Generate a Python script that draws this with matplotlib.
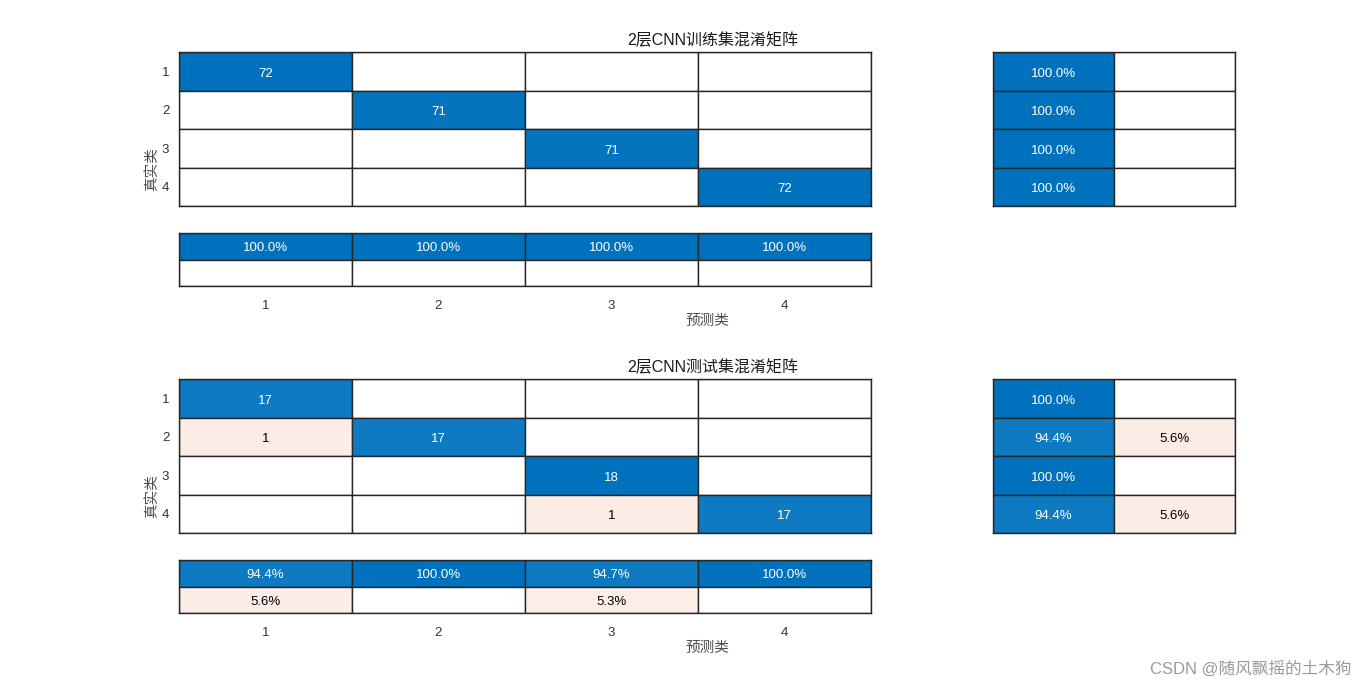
import numpy as np
import matplotlib
matplotlib.use('Agg')
import matplotlib.pyplot as plt
from matplotlib.patches import Rectangle

plt.rcParams['font.family'] = ['Liberation Sans', 'Noto Sans CJK SC', 'DejaVu Sans']

classes = ['1', '2', '3', '4']
train_cm = [[72, 0, 0, 0],
            [0, 71, 0, 0],
            [0, 0, 71, 0],
            [0, 0, 0, 72]]
test_cm = [[17, 0, 0, 0],
           [1, 17, 0, 0],
           [0, 0, 18, 0],
           [0, 0, 1, 17]]
titles = ['2层CNN训练集混淆矩阵', '2层CNN测试集混淆矩阵']
xlabel_text = '预测类'
ylabel_text = '真实类'
watermark = 'CSDN @随风飘摇的土木狗'

W, H = 1366, 690
BLUE = np.array([0.0, 114 / 255, 189 / 255])
RED = np.array([0.85, 0.325, 0.098])
EDGE = '#262626'


def blend(c, t):
    return 1 - t * (1 - c)


def fx(px):
    return px / W


def fy(py):
    return 1 - py / H


def draw_grid(ax, colors, texts, tcolors):
    nr, nc = len(colors), len(colors[0])
    for i in range(nr):
        for j in range(nc):
            ax.add_patch(Rectangle((j, i), 1, 1, facecolor=colors[i][j],
                                   edgecolor=EDGE, lw=1))
            if texts[i][j]:
                ax.text(j + 0.5, i + 0.52, texts[i][j], ha='center',
                        va='center_baseline', fontsize=9.5, color=tcolors[i][j])
    ax.set_xlim(0, nc)
    ax.set_ylim(nr, 0)
    for s in ax.spines.values():
        s.set_color(EDGE)
        s.set_linewidth(1)
    ax.set_xticks([])
    ax.set_yticks([])


def cell_style(v, correct, frac):
    if v == 0:
        return (1.0, 1.0, 1.0), 'k'
    if correct:
        return tuple(blend(BLUE, frac)), 'white'
    return tuple(blend(RED, min(1.0, 2 * frac))), 'k'


fig = plt.figure(figsize=(W / 100, H / 100), dpi=100)

for idx, (cm, top) in enumerate([(train_cm, 52), (test_cm, 379)]):
    cm = np.array(cm)
    n = len(classes)
    vmax = cm.max()

    # main matrix
    cols, txts, tcols = [], [], []
    for i in range(n):
        rc, rt, rtc = [], [], []
        for j in range(n):
            c, tc = cell_style(cm[i, j], i == j, cm[i, j] / vmax)
            rc.append(c)
            rt.append(str(cm[i, j]) if cm[i, j] else '')
            rtc.append(tc)
        cols.append(rc); txts.append(rt); tcols.append(rtc)
    ax = fig.add_axes([fx(179), fy(top + 154), fx(692), 154 / H])
    draw_grid(ax, cols, txts, tcols)
    ax.set_yticks(np.arange(n) + 0.5)
    ax.set_yticklabels(classes, fontsize=9.5, color='#333333')
    ax.tick_params(axis='y', length=0, pad=7)

    # row summary
    rs = cm.sum(axis=1)
    cols, txts, tcols = [], [], []
    for i in range(n):
        good = cm[i, i] / rs[i]
        bad = 1 - good
        c1, t1 = cell_style(good, True, good)
        c2, t2 = cell_style(round(bad, 6), False, bad)
        cols.append([c1, c2])
        txts.append(['%.1f%%' % (good * 100), '%.1f%%' % (bad * 100) if bad > 1e-9 else ''])
        tcols.append([t1, t2])
    axr = fig.add_axes([fx(993), fy(top + 154), fx(242), 154 / H])
    draw_grid(axr, cols, txts, tcols)

    # column summary
    cs = cm.sum(axis=0)
    goodr, badr, gt, bt, gc, bc = [], [], [], [], [], []
    for j in range(n):
        good = cm[j, j] / cs[j]
        bad = 1 - good
        c1, t1 = cell_style(good, True, good)
        c2, t2 = cell_style(round(bad, 6), False, bad)
        goodr.append(c1); badr.append(c2)
        gt.append('%.1f%%' % (good * 100))
        bt.append('%.1f%%' % (bad * 100) if bad > 1e-9 else '')
        gc.append(t1); bc.append(t2)
    axb = fig.add_axes([fx(179), fy(top + 234), fx(692), 53 / H])
    draw_grid(axb, [goodr, badr], [gt, bt], [gc, bc])
    axb.set_xticks(np.arange(n) + 0.5)
    axb.set_xticklabels(classes, fontsize=9.5, color='#333333')
    axb.tick_params(axis='x', length=0, pad=10)

    fig.text(fx(713), fy(top - 12), titles[idx], ha='center', va='center',
             fontsize=11.5, color='#1a1a1a')
    fig.text(fx(707), fy(top + 269), xlabel_text, ha='center', va='center',
             fontsize=10.5, color='#4d4d4d')
    fig.text(fx(152), fy(top + 117), ylabel_text, ha='center', va='center',
             rotation=90, fontsize=10.5, color='#4d4d4d')

fig.text(fx(1352), fy(669), watermark, ha='right', va='center',
         fontsize=12, color='#9a9a9a')

fig.savefig('out.png', dpi=100)
